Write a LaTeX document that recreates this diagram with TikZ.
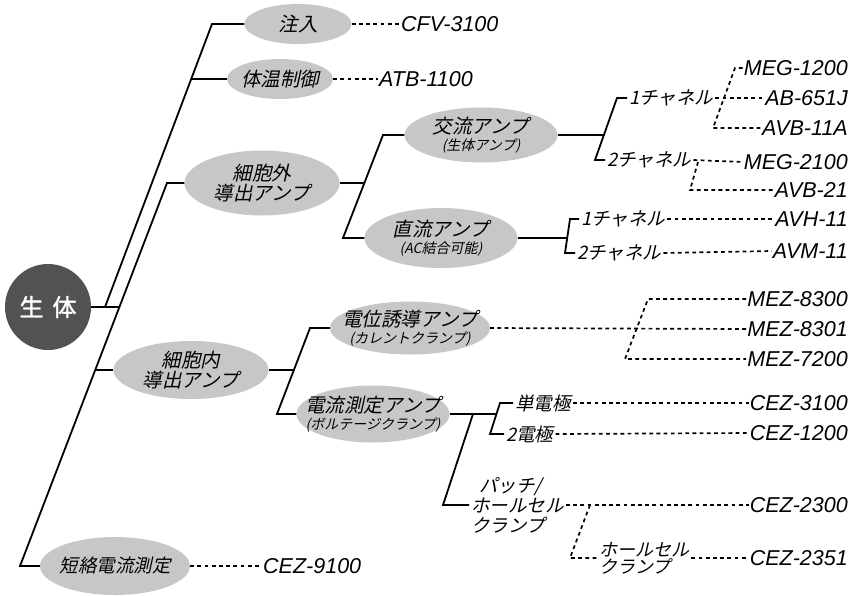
\documentclass[tikz,border=0pt]{standalone}
\usepackage{fontspec}
\setmainfont{Liberation Sans}
\newfontfamily\jp[FakeSlant=0.22]{Noto Sans CJK JP}
\newfontfamily\jpbold[FakeBold=1.5]{Noto Sans CJK JP}
\usetikzlibrary{shapes.geometric}
\tikzset{
  oval/.style={ellipse, fill=black!22, draw=none, inner sep=0pt},
  ovtext/.style={inner sep=0pt, align=center, font=\jp\fontsize{19.5}{21}\selectfont},
  bodyc/.style={circle, fill=black!68, draw=none, minimum size=86pt, inner sep=0pt, text=white},
  prod/.style={font=\itshape\fontsize{21.5}{24}\selectfont, inner sep=1pt, anchor=east},
  lbl/.style={font=\jp\fontsize{18.5}{20}\selectfont, inner sep=2pt, anchor=west, align=left},
  solidln/.style={line width=1.8pt},
  dotln/.style={line width=1.7pt, dash pattern=on 3.8pt off 3.4pt},
}
\newcommand{\subt}[1]{{\fontsize{14}{15}\selectfont #1}}
\begin{document}
\begin{tikzpicture}[x=1pt,y=-1pt]
\useasboundingbox (0,0) rectangle (861,595);
% root
\node[bodyc] (body) at (48,307) {\jpbold\fontsize{24}{24}\selectfont 生\hspace{9pt}体};
% ovals
\node[oval, minimum width=107pt, minimum height=40pt] (inj) at (298,24) {};
\node[ovtext] (inj-t) at (inj) {注入};
\node[oval, minimum width=106pt, minimum height=40pt] (temp) at (280,79) {};
\node[ovtext] (temp-t) at (temp) {体温制御};
\node[oval, minimum width=155pt, minimum height=65pt] (ext) at (262,183) {};
\node[ovtext] (ext-t) at (ext) {細胞外\\[-1pt]導出アンプ};
\node[oval, minimum width=153pt, minimum height=55pt] (ac) at (481,135) {};
\node[ovtext] (ac-t) at (ac) {交流アンプ\\[-4pt]\subt{(生体アンプ)}};
\node[oval, minimum width=153pt, minimum height=60pt] (dc) at (441,238) {};
\node[ovtext] (dc-t) at (dc) {直流アンプ\\[-4pt]\subt{(AC結合可能)}};
\node[oval, minimum width=155pt, minimum height=58pt] (intra) at (191,370) {};
\node[ovtext] (intra-t) at (intra) {細胞内\\[-1pt]導出アンプ};
\node[oval, minimum width=160pt, minimum height=53pt] (cc) at (410,328) {};
\node[ovtext] (cc-t) at (cc) {電位誘導アンプ\\[-4pt]\subt{(カレントクランプ)}};
\node[oval, minimum width=153pt, minimum height=57pt] (vc) at (373,414) {};
\node[ovtext] (vc-t) at (vc) {電流測定アンプ\\[-4pt]\subt{(ボルテージクランプ)}};
\node[oval, minimum width=150pt, minimum height=58pt] (sc) at (115,566) {};
\node[ovtext, font=\jp\fontsize{18.5}{20}\selectfont] (sc-t) at (sc) {短絡電流測定};
% intermediate labels
\node[lbl] (ch1a) at (627,98) {1チャネル};
\node[lbl] (ch2a) at (605,160) {2チャネル};
\node[lbl] (ch1b) at (579,219) {1チャネル};
\node[lbl] (ch2b) at (575,253) {2チャネル};
\node[lbl] (tan) at (513,403) {単電極};
\node[lbl] (ni) at (504,434) {2電極};
\node[lbl] (patch) at (469,505) {\hspace{8pt}パッチ/\\ホールセル\\クランプ};
\node[lbl, font=\jp\fontsize{18}{17}\selectfont] (hc) at (597,558) {ホールセル\\クランプ};
% product codes
\node[prod, anchor=west] (cfv) at (400,24) {CFV-3100};
\node[prod, anchor=west] (atb) at (378,79) {ATB-1100};
\node[prod] (meg12) at (849,68) {MEG-1200};
\node[prod] (ab) at (849,98) {AB-651J};
\node[prod] (avb11a) at (849,128) {AVB-11A};
\node[prod] (meg21) at (849,162) {MEG-2100};
\node[prod] (avb21) at (849,190) {AVB-21};
\node[prod] (avh) at (849,219) {AVH-11};
\node[prod] (avm) at (849,251) {AVM-11};
\node[prod] (mez8300) at (849,299) {MEZ-8300};
\node[prod] (mez8301) at (849,329) {MEZ-8301};
\node[prod] (mez7200) at (849,359) {MEZ-7200};
\node[prod] (cez31) at (849,403) {CEZ-3100};
\node[prod] (cez12) at (849,433) {CEZ-1200};
\node[prod] (cez23) at (849,505) {CEZ-2300};
\node[prod] (cez2351) at (849,558) {CEZ-2351};
\node[prod, anchor=west] (cez91) at (262,566) {CEZ-9100};
% junction coordinates
\coordinate (b1) at (105,307);
\coordinate (b2) at (119,307);
\coordinate (t1) at (212,24);
\coordinate (t1b) at (191,79);
\coordinate (t2) at (167,183);
\coordinate (t2b) at (95,370);
\coordinate (t2c) at (20,566);
\coordinate (e1) at (383,135);
\coordinate (e2) at (343,238);
\coordinate (ej) at (364,183);
\coordinate (a1) at (617,98);
\coordinate (a2) at (595,160);
\coordinate (aj) at (605,135);
\coordinate (d1) at (570,219);
\coordinate (d2) at (565,253);
\coordinate (dj) at (567,238);
\coordinate (i1) at (310,328);
\coordinate (i2) at (277,414);
\coordinate (ij) at (293,370);
\coordinate (v1) at (500,403);
\coordinate (v2) at (490,434);
\coordinate (vj) at (497,414);
\coordinate (p1) at (473,414);
\coordinate (p2) at (443,505);
\coordinate (m1) at (735,68);
\coordinate (m2) at (713,128);
\coordinate (n1) at (698,162);
\coordinate (n2) at (690,190);
\coordinate (z1) at (648,299);
\coordinate (z2) at (625,359);
\coordinate (h1) at (590,505);
\coordinate (h2) at (570,558);
% solid tree lines
\draw[solidln] (body.east) -- (b2);
\draw[solidln] (b1) -- (t1) -- (inj.west);
\draw[solidln] (t1b) -- (temp.west);
\draw[solidln] (ext.west) -- (t2) -- (t2c) -- (sc.west);
\draw[solidln] (t2b) -- (intra.west);
\draw[solidln] (ext.east) -- (ej);
\draw[solidln] (ac.west) -- (e1) -- (e2) -- (dc.west);
\draw[solidln] (ac.east) -- (aj);
\draw[solidln] (ch1a.west) -- (a1) -- (a2) -- (ch2a.west);
\draw[solidln] (dc.east) -- (dj);
\draw[solidln] (ch1b.west) -- (d1) -- (d2) -- (ch2b.west);
\draw[solidln] (intra.east) -- (ij);
\draw[solidln] (cc.west) -- (i1) -- (i2) -- (vc.west);
\draw[solidln] (vc.east) -- (vj);
\draw[solidln] (tan.west) -- (v1) -- (v2) -- (ni.west);
\draw[solidln] (p1) -- (p2) -- (patch.west);
% dotted lines
\draw[dotln] (inj.east) -- (cfv.west);
\draw[dotln] (temp.east) -- (atb.west);
\draw[dotln] (ch1a.east) -- (ab.west);
\draw[dotln] (meg12.west) -- (m1) -- (m2) -- (avb11a.west);
\draw[dotln] (ch2a.east) -- (meg21.west);
\draw[dotln] (n1) -- (n2) -- (avb21.west);
\draw[dotln] (ch1b.east) -- (avh.west);
\draw[dotln] (ch2b.east) -- (avm.west);
\draw[dotln] (cc.east) -- (mez8301.west);
\draw[dotln] (mez8300.west) -- (z1) -- (z2) -- (mez7200.west);
\draw[dotln] (tan.east) -- (cez31.west);
\draw[dotln] (ni.east) -- (cez12.west);
\draw[dotln] (patch.east) -- (cez23.west);
\draw[dotln] (h1) -- (h2) -- (hc.west);
\draw[dotln] (hc.east) -- (cez2351.west);
\draw[dotln] (sc.east) -- (cez91.west);
\end{tikzpicture}
\end{document}
